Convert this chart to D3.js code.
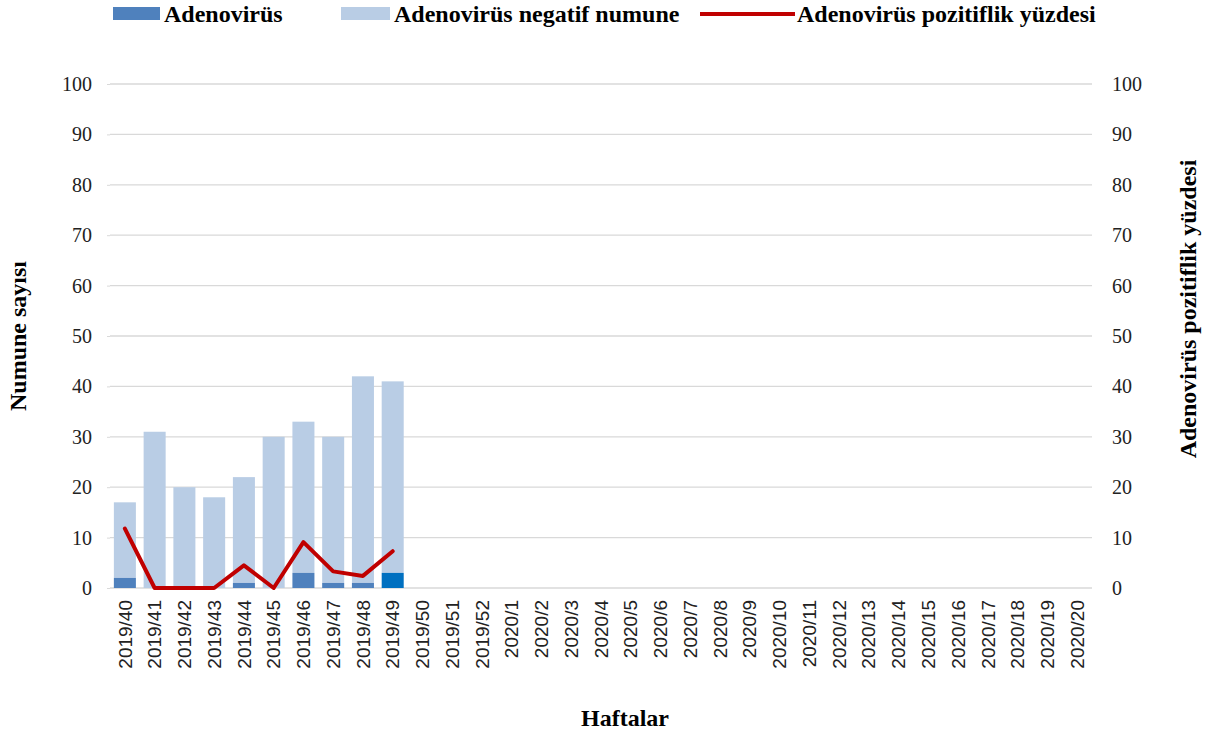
<!DOCTYPE html>
<html><head><meta charset="utf-8">
<script src="https://cdn.jsdelivr.net/npm/d3@7"></script>
<style>body{margin:0;background:#fff}svg{display:block}</style>
</head><body>
<svg id="c" width="1214" height="735"></svg>
<script>
const weeks = ["2019/40","2019/41","2019/42","2019/43","2019/44","2019/45","2019/46","2019/47","2019/48","2019/49","2019/50","2019/51","2019/52",
"2020/1","2020/2","2020/3","2020/4","2020/5","2020/6","2020/7","2020/8","2020/9","2020/10","2020/11","2020/12","2020/13","2020/14","2020/15","2020/16","2020/17","2020/18","2020/19","2020/20"];
const positive = [2,0,0,0,1,0,3,1,1,3];
const negative = [15,31,20,18,21,30,30,29,41,38];
const percent  = [11.8,0,0,0,4.5,0,9.1,3.3,2.4,7.3];
const yTicks = [0,10,20,30,40,50,60,70,80,90,100];
const posColors = ["#4F81BD","#4F81BD","#4F81BD","#4F81BD","#4F81BD","#4F81BD","#4F81BD","#4F81BD","#4F81BD","#0070C0"];

const svg = d3.select("#c");
const L=110, R=1092, T=84, B=588;
const x = d3.scaleBand().domain(weeks).range([L,R]).paddingInner(0.26).paddingOuter(0.13);
const y = d3.scaleLinear().domain([0,100]).range([B,T]);
const y2 = d3.scaleLinear().domain([0,100]).range([B,T]);
const serif = "'Liberation Serif','Times New Roman',serif";

// grid
svg.append("g").selectAll("line").data(yTicks).join("line")
  .attr("x1",L).attr("x2",R).attr("y1",d=>y(d)).attr("y2",d=>y(d))
  .attr("stroke","#D9D9D9").attr("stroke-width",1.3);

// left axis
const ga = svg.append("g").attr("transform",`translate(${L},0)`)
  .call(d3.axisLeft(y).tickValues(yTicks).tickSize(3).tickPadding(15));
ga.select(".domain").remove();
ga.selectAll("line").attr("stroke","#D9D9D9");
ga.selectAll("text").attr("font-family",serif).attr("font-size",20).attr("fill","#222");

const gb = svg.append("g").attr("transform",`translate(${R},0)`)
  .call(d3.axisRight(y2).tickValues(yTicks).tickSize(0).tickPadding(20));
gb.select(".domain").remove();
gb.selectAll("text").attr("font-family",serif).attr("font-size",20).attr("fill","#222");

// bars
const data = positive.map((p,i)=>({w:weeks[i],p,n:negative[i],c:posColors[i]}));
svg.append("g").selectAll("rect").data(data).join("rect")
  .attr("x",d=>x(d.w)).attr("width",x.bandwidth())
  .attr("y",d=>y(d.p+d.n)).attr("height",d=>y(d.p)-y(d.p+d.n)).attr("fill","#B9CDE5");
svg.append("g").selectAll("rect").data(data).join("rect")
  .attr("x",d=>x(d.w)).attr("width",x.bandwidth())
  .attr("y",d=>y(d.p)).attr("height",d=>y(0)-y(d.p)).attr("fill",d=>d.c);

// line
const line = d3.line().x((d,i)=>x(weeks[i])+x.bandwidth()/2).y(d=>y2(d));
svg.append("path").datum(percent).attr("d",line).attr("fill","none")
  .attr("stroke","#C00000").attr("stroke-width",4).attr("stroke-linejoin","round").attr("stroke-linecap","round");

// x labels
svg.append("g").selectAll("text").data(weeks).join("text")
  .attr("transform",d=>`translate(${x(d)+x.bandwidth()/2},600) rotate(-90)`)
  .attr("text-anchor","end").attr("dy","0.35em")
  .attr("font-family","'Liberation Sans',Arial,sans-serif").attr("font-size",19).attr("fill","#222")
  .text(d=>d);

// titles
svg.append("text").attr("x",625).attr("y",726).attr("text-anchor","middle")
  .attr("font-family",serif).attr("font-weight","bold").attr("font-size",24).text("Haftalar");
svg.append("text").attr("transform","translate(26,336) rotate(-90)").attr("text-anchor","middle")
  .attr("font-family",serif).attr("font-weight","bold").attr("font-size",24).text("Numune sayısı");
svg.append("text").attr("transform","translate(1196,309) rotate(-90)").attr("text-anchor","middle")
  .attr("font-family",serif).attr("font-weight","bold").attr("font-size",24).text("Adenovirüs pozitiflik yüzdesi");

// legend
const leg = svg.append("g").attr("font-family",serif).attr("font-weight","bold").attr("font-size",24);
leg.append("rect").attr("x",113).attr("y",7).attr("width",47).attr("height",13).attr("fill","#4F81BD");
leg.append("text").attr("x",164).attr("y",22).text("Adenovirüs");
leg.append("rect").attr("x",341).attr("y",7).attr("width",49).attr("height",13).attr("fill","#B9CDE5");
leg.append("text").attr("x",394).attr("y",22).text("Adenovirüs negatif numune");
leg.append("line").attr("x1",700).attr("x2",795).attr("y1",14).attr("y2",14).attr("stroke","#C00000").attr("stroke-width",4);
leg.append("text").attr("x",797).attr("y",22).text("Adenovirüs pozitiflik yüzdesi");
</script>
</body></html>
